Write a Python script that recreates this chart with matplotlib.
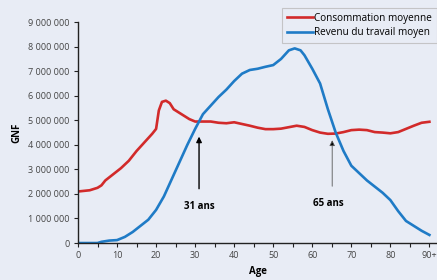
import matplotlib
matplotlib.use('Agg')
import matplotlib.pyplot as plt
from matplotlib.ticker import FuncFormatter, MultipleLocator

# Consommation moyenne (GNF) par âge
ages_c = [0, 3, 5, 6, 7, 9, 11, 13, 15, 17, 19, 20, 20.7, 21.5, 22.5, 23.5, 24.5, 25.5,
          27, 28.5, 30, 32, 34, 36, 38, 40, 42, 44, 46, 48, 50, 52, 54, 56, 58, 60,
          62, 64, 66, 68, 70, 72, 74, 76, 78, 80, 82, 84, 86, 88, 90]
conso = [2.10, 2.15, 2.25, 2.35, 2.55, 2.80, 3.05, 3.35, 3.75, 4.10, 4.45, 4.65, 5.40,
         5.75, 5.80, 5.70, 5.45, 5.35, 5.20, 5.05, 4.95, 4.95, 4.95, 4.90, 4.88, 4.92,
         4.85, 4.78, 4.70, 4.64, 4.64, 4.66, 4.72, 4.78, 4.73, 4.60, 4.50, 4.45, 4.46,
         4.52, 4.60, 4.62, 4.60, 4.52, 4.50, 4.47, 4.52, 4.65, 4.78, 4.90, 4.94]

# Revenu du travail moyen (GNF) par âge
ages_r = [0, 5, 6, 8, 10, 12, 14, 16, 18, 20, 22, 24, 26, 28, 30, 32, 34, 36, 38, 40,
          42, 44, 46, 48, 50, 52, 54, 55.5, 57, 58, 60, 62, 64, 66, 68, 70, 72, 74, 76,
          78, 80, 82, 84, 86, 88, 90]
revenu = [0.0, 0.0, 0.05, 0.10, 0.12, 0.25, 0.45, 0.70, 0.95, 1.35, 1.90, 2.60, 3.30,
          4.00, 4.65, 5.25, 5.60, 5.95, 6.25, 6.60, 6.90, 7.05, 7.10, 7.18, 7.25, 7.50,
          7.85, 7.93, 7.85, 7.65, 7.10, 6.50, 5.45, 4.50, 3.75, 3.15, 2.85, 2.55, 2.30,
          2.05, 1.75, 1.30, 0.90, 0.70, 0.50, 0.33]

x_ticks = [0, 10, 20, 30, 40, 50, 60, 70, 80, 90]
x_labels = ['0', '10', '20', '30', '40', '50', '60', '70', '80', '90+']

bg = '#e8ecf5'
red = '#d22a2a'
blue = '#1f7bc6'

plt.rcParams['font.family'] = ['Open Sans', 'DejaVu Sans']

fig = plt.figure(figsize=(4.37, 2.80), dpi=100, facecolor=bg)
ax = fig.add_axes([0.1785, 0.132, 0.822, 0.789], facecolor=bg)

M = 1e6
ax.plot(ages_c, [v * M for v in conso], color=red, lw=1.9, label='Consommation moyenne')
ax.plot(ages_r, [v * M for v in revenu], color=blue, lw=1.9, label='Revenu du travail moyen')

ax.set_xlim(0, 92)
ax.set_ylim(0, 9 * M)
ax.set_xticks(x_ticks)
ax.set_xticklabels(x_labels)
ax.xaxis.set_minor_locator(MultipleLocator(5))
ax.yaxis.set_major_locator(MultipleLocator(1 * M))
ax.yaxis.set_major_formatter(FuncFormatter(lambda v, p: '{:,.0f}'.format(v).replace(',', ' ')))

for s in ['top', 'right']:
    ax.spines[s].set_visible(False)
for s in ['left', 'bottom']:
    ax.spines[s].set_color('#222222')
    ax.spines[s].set_linewidth(1.0)
ax.tick_params(which='both', direction='out', length=3, width=0.8, colors='#222222',
               labelcolor='#444444', labelsize=6.5, pad=3)
ax.tick_params(which='minor', length=3)

ax.set_xlabel('Age', fontsize=7, fontweight='bold', labelpad=4)
ax.set_ylabel('GNF', fontsize=7, fontweight='bold', labelpad=4)

# flèches
ax.annotate('', xy=(31, 4.45 * M), xytext=(31, 2.1 * M),
            arrowprops=dict(arrowstyle='-|>', color='black', lw=1.0, mutation_scale=8))
ax.text(31, 1.5 * M, '31 ans', ha='center', va='center', fontsize=7, fontweight='bold')
ax.annotate('', xy=(65.1, 4.3 * M), xytext=(65.1, 2.2 * M),
            arrowprops=dict(arrowstyle='-|>', color='#555555', lw=0.6, mutation_scale=8,
                            fc='black'))
ax.text(64, 1.63 * M, '65 ans', ha='center', va='center', fontsize=7, fontweight='bold')

leg = ax.legend(loc='upper right', bbox_to_anchor=(0.999, 1.065), fontsize=7.2, frameon=True,
                fancybox=False, handlelength=2.6, handletextpad=0.1, borderpad=0.5,
                labelspacing=0.35, borderaxespad=0.0)
leg.get_frame().set_facecolor(bg)
leg.get_frame().set_edgecolor('#bbbbbb')
leg.get_frame().set_linewidth(0.8)

fig.savefig('out.png', dpi=100, facecolor=bg)
